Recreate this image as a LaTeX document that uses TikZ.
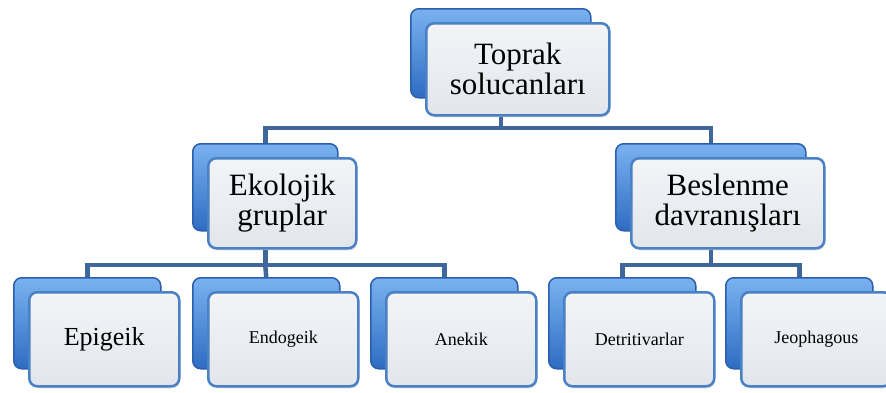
\documentclass[tikz,border=0pt]{standalone}
\usepackage{fontspec}
\setmainfont{Liberation Serif}
\usetikzlibrary{shadows,calc}
\definecolor{backtop}{HTML}{7AB2F0}
\definecolor{backbot}{HTML}{2E6CC2}
\definecolor{backline}{HTML}{2A5FAD}
\definecolor{fronttop}{HTML}{F2F4F7}
\definecolor{frontbot}{HTML}{E2E6EC}
\definecolor{frontline}{HTML}{4A80C4}
\definecolor{connc}{HTML}{40679C}
\tikzset{
  backbox/.style={anchor=north west, rectangle, rounded corners=8pt, top color=backtop, bottom color=backbot, draw=backline, line width=1.5pt, inner sep=0pt},
  frontbox/.style={anchor=north west, rectangle, rounded corners=8pt, top color=fronttop, bottom color=frontbot, draw=frontline, line width=2.5pt, inner sep=0pt, align=center,
    drop shadow={opacity=0.3, shadow xshift=1pt, shadow yshift=-2pt}},
  bigtxt/.style={font=\fontsize{31}{30}\selectfont},
  midtxt/.style={font=\fontsize{26}{28}\selectfont},
  smalltxt/.style={font=\fontsize{18}{20}\selectfont},
  conn/.style={draw=connc, line width=4.5pt, line join=miter, line cap=butt},
}
% #1 name, #2 x, #3 y, #4 w, #5 h, #6 text style, #7 text
\newcommand{\boxpair}[7]{%
  \node[backbox, minimum width=#4pt, minimum height=#5pt] (#1b) at (#2,#3) {};
  \node[frontbox, #6, minimum width=#4pt+3pt, minimum height=#5pt+3pt] (#1f) at (#2+15,#3+14) {#7};
}
\begin{document}
\begin{tikzpicture}[x=1pt,y=-1pt]
\useasboundingbox (0,0) rectangle (886,392);
\coordinate (bar1) at (0,128);
\coordinate (bar2) at (0,265);
% boxes
\boxpair{top}{410}{8}{180}{89}{bigtxt}{Toprak\\solucanları}
\boxpair{eko}{192}{143}{145}{87}{bigtxt}{Ekolojik\\gruplar}
\boxpair{bes}{615}{143}{190}{87}{bigtxt}{Beslenme\\davranışları}
\boxpair{epi}{13}{277}{147}{91}{midtxt}{Epigeik}
\boxpair{endo}{192}{277}{147}{91}{smalltxt}{Endogeik}
\boxpair{ane}{370}{277}{147}{91}{smalltxt}{Anekik}
\boxpair{det}{548}{277}{147}{91}{smalltxt}{Detritivarlar}
\boxpair{jeo}{725}{277}{147}{91}{smalltxt}{Jeophagous}
% connectors
\draw[conn] (topb.center |- topf.south) -- (topb.center |- bar1) -| (ekob.north);
\draw[conn] (topb.center |- bar1) -| (besb.north);
\draw[conn] (ekob.center |- ekof.south) -- (ekob.center |- bar2) -| (epib.north);
\draw[conn] (ekob.center |- bar2) -| (aneb.north);
\draw[conn] (ekob.center |- bar2) -- (endob.north);
\draw[conn] (besb.center |- besf.south) -- (besb.center |- bar2) -| (detb.north);
\draw[conn] (besb.center |- bar2) -| (jeob.north);
\end{tikzpicture}
\end{document}
